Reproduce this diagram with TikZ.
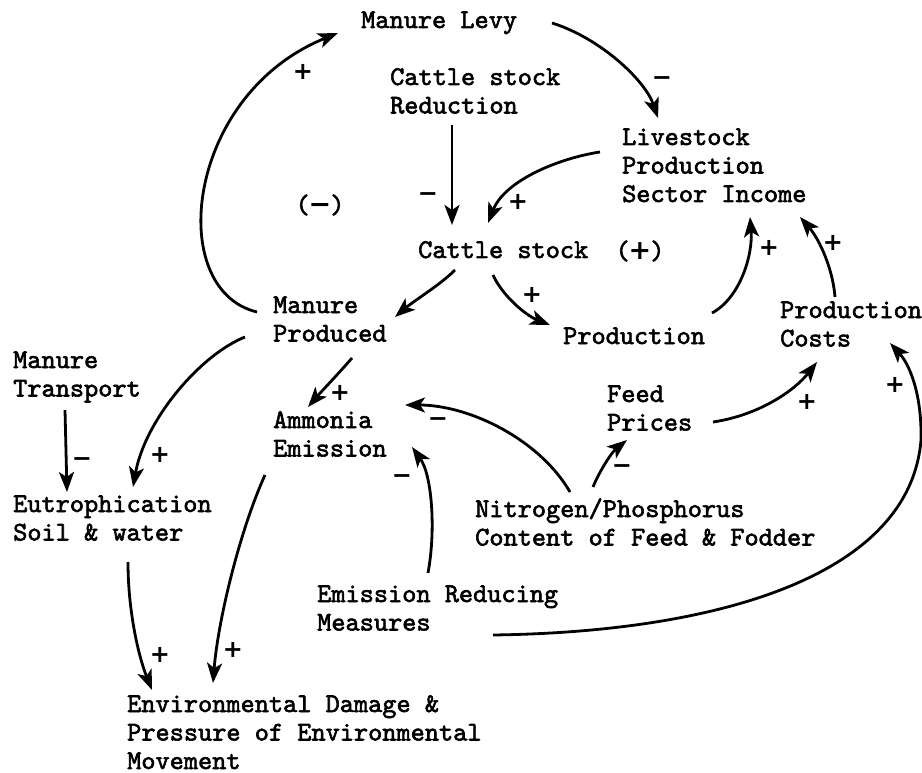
\documentclass[tikz,border=0pt]{standalone}
\usepackage{fontspec}
\newfontfamily\signfont{DejaVu Sans}
\newfontfamily\tyfont{lmmono10-regular.otf}[FakeBold=2.2]
\newcommand{\mlines}[1]{\vtop{\let\\\cr\halign{##\hfil\cr#1\crcr}}}
\usetikzlibrary{arrows.meta,calc}
\begin{document}
\begin{tikzpicture}[x=1pt,y=-1pt,
  lbl/.style={font=\fontsize{27}{28.5}\selectfont\tyfont, inner sep=0pt, anchor=base west},
  sgn/.style={font=\fontsize{24}{24}\selectfont\signfont\bfseries, inner sep=0pt},
  looplbl/.style={font=\fontsize{27}{28.5}\selectfont\tyfont, inner sep=0pt},
  link/.style={line width=2.8pt, -{Stealth[length=20pt,width=15pt,inset=5pt]}},
]
\useasboundingbox (0,0) rectangle (922,773);
% factors
\node[lbl] (levy) at (361,28) {Manure Levy};
\node[lbl] (csr) at (390,85) {\mlines{Cattle stock\\Reduction}};
\node[lbl] (lpsi) at (622,145) {\mlines{Livestock\\Production\\Sector Income}};
\node[lbl] (cs) at (418,258) {Cattle stock};
\node[lbl] (mp) at (273,313) {\mlines{Manure\\Produced}};
\node[lbl] (prod) at (563,344) {Production};
\node[lbl] (pc) at (780,318) {\mlines{Production\\Costs}};
\node[lbl] (mt) at (13,368) {\mlines{Manure\\Transport}};
\node[lbl] (am) at (273,428) {\mlines{Ammonia\\Emission}};
\node[lbl] (fp) at (607,402) {\mlines{Feed\\Prices}};
\node[lbl] (eu) at (13,512) {\mlines{Eutrophication\\Soil \& water}};
\node[lbl] (np) at (475,517) {\mlines{Nitrogen/Phosphorus\\Content of Feed \& Fodder}};
\node[lbl] (erm) at (317,602) {\mlines{Emission Reducing\\Measures}};
\node[lbl] (env) at (127,712) {\mlines{Environmental Damage \&\\Pressure of Environmental\\Movement}};
% loop polarity
\node[looplbl] (loopneg) at (320,205) {(\kern-1pt{\signfont\bfseries −}\kern-1pt)};
\node[looplbl] (looppos) at (640,251) {(\kern-1pt{\signfont\bfseries +}\kern-1pt)};
% connectors
\draw[link] ($(mp.base west)+(-16,-1)$) .. controls +(-92,-22) and +(-153,62) .. ($(levy.base west)+(-23,5)$);
\draw[link] ($(levy.base west)+(191,-5)$) .. controls +(48,15) and +(-13,-38) .. ($(lpsi.base west)+(36,-27)$);
\draw[link] ($(csr.base west)+(62,40)$) -- ($(cs.base west)+(34,-33)$);
\draw[link] ($(lpsi.base west)+(-22,7)$) .. controls +(-40,6) and +(17,-43) .. ($(cs.base west)+(70,-35)$);
\draw[link] ($(cs.base west)+(37,12)$) .. controls +(-15,15) and +(20,-17) .. ($(mp.base west)+(122,4)$);
\draw[link] ($(cs.base west)+(75,17)$) .. controls +(9,20) and +(-25,-10) .. ($(prod.base west)+(-13,-19)$);
\draw[link] ($(prod.base west)+(149,-31)$) .. controls +(28,-15) and +(3,38) .. ($(lpsi.base west)+(128,72)$);
\draw[link] ($(pc.base west)+(55,-21)$) .. controls +(-2,-27) and +(20,23) .. ($(lpsi.base west)+(178,72)$);
\draw[link] ($(mp.base west)+(-28,24)$) .. controls +(-45,18) and +(12,-67) .. ($(eu.base west)+(120,-25)$);
\draw[link] ($(mt.base west)+(52,42)$) -- ($(eu.base west)+(54,-20)$);
\draw[link] ($(mp.base west)+(79,45)$) .. controls +(-12,14) and +(12,-14) .. ($(am.base west)+(35,-21)$);
\draw[link] ($(np.base west)+(95,-25)$) .. controls +(-30,-52) and +(65,0) .. ($(am.base west)+(132,-23)$);
\draw[link] ($(erm.base west)+(111,-29)$) .. controls +(8,-43) and +(20,28) .. ($(am.base west)+(139,19)$);
\draw[link] ($(am.base west)+(-8,47)$) .. controls +(-25,55) and +(5,-63) .. ($(env.base west)+(86,-29)$);
\draw[link] ($(eu.base west)+(115,50)$) .. controls +(0,48) and +(-14,-35) .. ($(env.base west)+(25,-22)$);
\draw[link] ($(np.base west)+(118,-30)$) .. controls +(7,-17) and +(-15,12) .. ($(fp.base west)+(20,38)$);
\draw[link] ($(fp.base west)+(106,20)$) .. controls +(47,-7) and +(-22,28) .. ($(pc.base west)+(37,44)$);
\coordinate (rbend) at (921,440);
\draw[link] ($(erm.base west)+(176,33)$) .. controls +(227,-3) and +(-11,135) .. (rbend)
  .. controls +(1,-45) and +(20,22) .. ($(pc.base west)+(110,25)$);
% link polarities
\node[sgn] (s1) at (303,72) {+};
\node[sgn] (s2) at (662,81) {−};
\node[sgn] (s3) at (428,197) {−};
\node[sgn] (s4) at (518,202) {+};
\node[sgn] (s5) at (532,295) {+};
\node[sgn] (s6) at (769,248) {+};
\node[sgn] (s7) at (833,243) {+};
\node[sgn] (s8) at (160,455) {+};
\node[sgn] (s9) at (82,462) {−};
\node[sgn] (s10) at (340,393) {+};
\node[sgn] (s11) at (438,422) {−};
\node[sgn] (s12) at (402,479) {−};
\node[sgn] (s13) at (622,469) {−};
\node[sgn] (s14) at (807,402) {+};
\node[sgn] (s15) at (895,385) {+};
\node[sgn] (s16) at (160,655) {+};
\node[sgn] (s17) at (233,650) {+};
\end{tikzpicture}
\end{document}
